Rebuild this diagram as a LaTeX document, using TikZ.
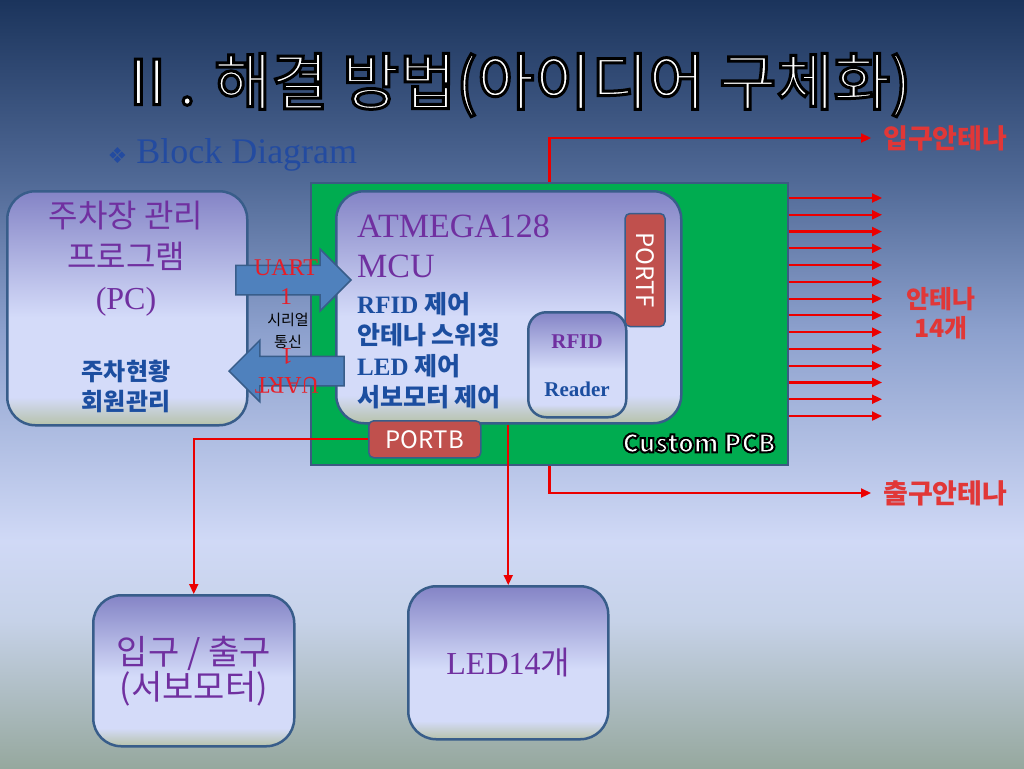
\documentclass[tikz,border=0pt]{standalone}
\usepackage{fontspec}
\setmainfont{Liberation Serif}
\newfontfamily\kr{Noto Sans CJK KR}
\newfontfamily\sym{DejaVu Sans}
\usetikzlibrary{arrows.meta, shapes.arrows}

\definecolor{bgA}{RGB}{27,52,92}
\definecolor{bgB}{RGB}{80,105,150}
\definecolor{bgC}{RGB}{140,160,205}
\definecolor{bgD}{RGB}{208,217,246}
\definecolor{bgE}{RGB}{198,210,232}
\definecolor{bgF}{RGB}{150,168,158}
\definecolor{bxT}{RGB}{132,132,198}
\definecolor{bxM}{RGB}{212,219,249}
\definecolor{bxB}{RGB}{182,194,170}
\definecolor{krpurple}{RGB}{112,48,160}
\definecolor{krblue}{RGB}{28,78,160}
\definecolor{portred}{RGB}{192,80,77}
\definecolor{bdr}{RGB}{56,93,138}
\definecolor{arrowblue}{RGB}{79,129,189}
\definecolor{pcbgreen}{RGB}{0,172,80}
\definecolor{pcbedge}{RGB}{60,90,130}
\definecolor{wirered}{RGB}{235,0,0}
\definecolor{antred}{RGB}{225,55,55}
\definecolor{uartred}{RGB}{230,30,40}
\definecolor{diagblue}{RGB}{35,75,160}

\pgfdeclareverticalshading{bgshade}{100bp}{color(0bp)=(bgF); color(25bp)=(bgF); color(34.6bp)=(bgE); color(39.8bp)=(bgD); color(53.5bp)=(bgC); color(63.3bp)=(bgB); color(75bp)=(bgA); color(100bp)=(bgA)}
\pgfdeclareverticalshading{boxshade}{100bp}{color(0bp)=(bxB); color(25bp)=(bxB); color(31bp)=(bxM); color(48bp)=(bxM); color(75bp)=(bxT); color(100bp)=(bxT)}

% texte blanc cerne de noir
\newcommand\outlined[2]{\special{pdf:literal direct 2 Tr #1 w 0 0 0 RG}#2\special{pdf:literal direct 0 Tr}}

\begin{document}
\begin{tikzpicture}[x=1pt, y=-1pt,
  box node/.style={shade, shading=boxshade, draw=bdr, line width=2.5pt, rounded corners=28pt, anchor=north west, inner sep=0pt},
  red box/.style={fill=portred, draw=bdr, line width=1.5pt, rounded corners=5pt, text=white, inner sep=0pt, font=\kr\fontsize{24}{24}\selectfont},
  block arrow/.style={single arrow, fill=arrowblue, draw=bdr, line width=1.5pt, minimum height=115pt, minimum width=60pt, inner ysep=14pt, inner xsep=0pt, single arrow head extend=16pt, anchor=tip},
  wire/.style={draw=wirered, line width=2.2pt, -{Triangle[length=10pt,width=9pt]}},
  antenna/.style={text=antred, font=\kr\bfseries\fontsize{27}{29}\selectfont, align=center}]

  % fond
  \shade[shading=bgshade] (0,0) rectangle (1024,768);
  \useasboundingbox (0,0) rectangle (1024,768);

  % titre
  \node[text=white, font=\kr\fontsize{62}{62}\selectfont] (title) at (514,85) {\outlined{3}{Ⅱ. 해결 방법(아이디어 구체화)}};
  \node[text=diagblue, font=\fontsize{36}{36}\selectfont, anchor=west] (subtitle) at (104,155) {{\sym\fontsize{22}{22}\selectfont ❖}~Block Diagram};

  % blocs
  \node[draw=pcbedge, fill=pcbgreen, line width=2pt, minimum width=477pt, minimum height=282pt, anchor=north west, inner sep=0pt] (pcb) at (310,182) {};
  \node[box node, minimum width=345pt, minimum height=232pt] (mcu) at (335,190) {};
  \node[box node, rounded corners=18pt, minimum width=98pt, minimum height=105pt] (rfid) at (527,311) {};
  \node[red box, rotate=-90, minimum width=113pt, minimum height=40pt] (portf) at (645,270) {PORTF};
  \node[red box, minimum width=112pt, minimum height=37pt, anchor=north west] (portb) at (368,420) {PORTB};
  \node[box node, minimum width=240pt, minimum height=234pt] (pc) at (6,190) {};
  \node[box node, minimum width=201pt, minimum height=151pt, text=krpurple, font=\kr\fontsize{34}{35}\selectfont, align=center] (gate) at (92,594) {입구 / 출구\\(서보모터)};
  \node[box node, minimum width=200pt, minimum height=153pt, text=krpurple, font=\fontsize{32}{34}\selectfont] (led) at (407,585) {LED14{\kr 개}};

  % UART
  \node[block arrow] (tx) at (352,280) {};
  \node[block arrow, shape border rotate=180] (rx) at (228,371) {};

  % textes
  \node[text=krpurple, font=\kr\fontsize{32}{41}\selectfont, align=center] (pcname) at (126,259) {주차장 관리\\프로그램\\{\rmfamily (PC)}};
  \node[text=krblue, font=\kr\bfseries\fontsize{24}{30}\selectfont, align=center] (pcjob) at (126,386) {주차현황\\회원관리};
  \node[text=krpurple, font=\fontsize{34}{40}\selectfont, align=left, anchor=north west, inner sep=0pt] (chip) at (357,215) {ATMEGA128\\MCU};
  \node[text=krblue, font=\bfseries\fontsize{25}{31}\selectfont, align=left, anchor=north west, inner sep=0pt] (jobs) at (357,292) {RFID {\kr 제어}\\{\kr 안테나 스위칭}\\LED {\kr 제어}\\{\kr 서보모터 제어}};
  \node[text=krpurple, font=\bfseries\fontsize{21}{21}\selectfont] (rfidtop) at (577,342) {RFID};
  \node[text=krblue, font=\bfseries\fontsize{21}{21}\selectfont] (rfidbot) at (577,389) {Reader};
  \node[text=uartred, font=\fontsize{24}{29}\selectfont, align=center] (uartup) at (286,282) {UART\\1};
  \node[text=uartred, font=\fontsize{24}{29}\selectfont, align=center, rotate=180] (uartdn) at (287,371) {UART\\1};
  \node[font=\kr\fontsize{15}{22}\selectfont, align=center] (serial) at (288,331) {시리얼\\통신};
  \node[text=white, font=\kr\bfseries\fontsize{25}{25}\selectfont, anchor=east] (pcbname) at (779,443) {\outlined{2}{Custom PCB}};

  % antennes
  \node[antenna, anchor=west, inner xsep=12pt] (inant) at (871,138) {입구안테나};
  \node[antenna, anchor=west, inner xsep=12pt] (outant) at (871,493) {출구안테나};
  \node[antenna, font=\kr\bfseries\fontsize{25}{29}\selectfont] (antlabel) at (941,314) {안테나\\14개};

  \draw[wire] (pcb.north) |- (inant.west);
  \draw[wire] (pcb.south) |- (outant.west);
  \foreach \i [evaluate=\i as \yy using 198+16.77*\i] in {0,...,13} {
    \coordinate (tip\i) at (882,\yy);
    \draw[wire] (pcb.east |- tip\i) -- (tip\i);
  }
  \draw[wire] (portb.west) -| (gate.north);
  \draw[wire] (led.north |- mcu.south) -- (led.north);
\end{tikzpicture}
\end{document}
